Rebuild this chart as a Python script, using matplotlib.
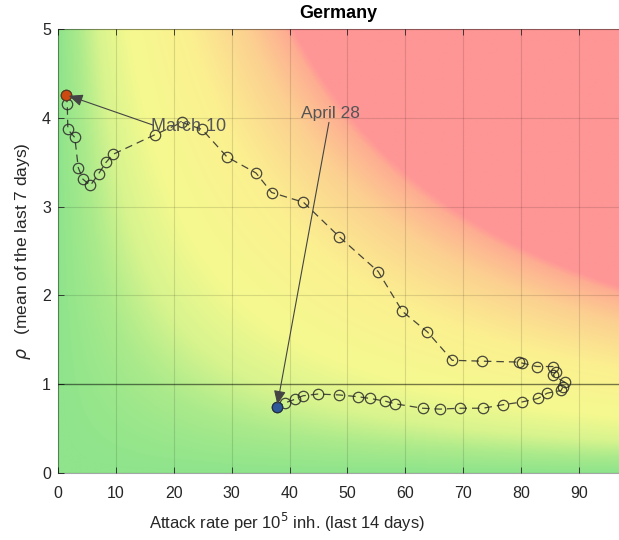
import numpy as np
import matplotlib
matplotlib.use("Agg")
import matplotlib.pyplot as plt
from matplotlib.colors import LinearSegmentedColormap

plt.rcParams['font.family'] = ['Liberation Sans', 'DejaVu Sans']

# attack rate per 1e5 inhabitants (14 days) and rho (7-day mean), daily from March 10 to April 28
attack_rate = [1.4, 1.6, 1.7, 2.9, 3.5, 4.3, 5.6, 7.0, 8.3, 9.5,
               16.7, 21.4, 24.9, 29.2, 34.2, 36.9, 42.4, 48.6, 55.3, 59.5,
               63.8, 68.1, 73.3, 79.6, 80.1, 82.7, 85.5, 86.0, 85.5, 87.6,
               87.2, 86.9, 84.5, 82.9, 80.1, 76.9, 73.4, 69.4, 66.0, 63.0,
               58.2, 56.5, 53.9, 51.8, 48.5, 44.9, 42.3, 40.9, 39.2, 37.8]
rho = [4.26, 4.16, 3.87, 3.78, 3.44, 3.31, 3.24, 3.37, 3.50, 3.59,
       3.81, 3.95, 3.87, 3.56, 3.38, 3.16, 3.05, 2.66, 2.27, 1.82,
       1.59, 1.27, 1.26, 1.25, 1.24, 1.20, 1.20, 1.14, 1.10, 1.02,
       0.97, 0.93, 0.90, 0.84, 0.80, 0.77, 0.73, 0.73, 0.72, 0.73,
       0.78, 0.81, 0.84, 0.86, 0.88, 0.89, 0.87, 0.83, 0.79, 0.74]
first_label = 'March 10'
last_label = 'April 28'

# risk background: colour by attack rate * rho, saturating in red
epg_max = 204.0
risk_cmap = LinearSegmentedColormap.from_list('risk', [
    (0.00, '#8fe48c'),
    (0.08, '#aaea8b'),
    (0.17, '#d8f48e'),
    (0.30, '#f5f98f'),
    (0.55, '#fbf090'),
    (0.80, '#fcd090'),
    (0.96, '#feae92'),
    (1.00, '#fe9696'),
])

fig = plt.figure(figsize=(6.19, 5.40), dpi=100)
ax = fig.add_axes([0.0937, 0.124, 0.9063, 0.822])

xmax = 96.9
gx = np.linspace(0, xmax, 500)
gy = np.linspace(0, 5, 400)
X, Y = np.meshgrid(gx, gy)
epg = np.clip(X * Y / epg_max, 0, 1)
ax.imshow(epg, extent=(0, xmax, 0, 5), origin='lower', aspect='auto',
          cmap=risk_cmap, vmin=0, vmax=1, interpolation='bilinear', zorder=0)

ax.set_xlim(0, xmax)
ax.set_ylim(0, 5)
ax.set_xticks(range(0, 91, 10))
ax.set_yticks(range(0, 6))
ax.grid(True, color='black', alpha=0.12, linewidth=0.8)
ax.axhline(1, color='black', alpha=0.45, linewidth=1.0, zorder=2)

ax.tick_params(direction='in', length=4, width=0.6, top=True, labelsize=11.5,
               colors='#262626')
ax.tick_params(axis='x', pad=9)
ax.tick_params(axis='y', pad=5)
for side in ['left', 'bottom', 'top']:
    ax.spines[side].set_color((0, 0, 0, 0.35))
ax.spines['right'].set_visible(False)

ax.plot(attack_rate, rho, linestyle='--', dashes=(6, 4), color='#2a2a2a', linewidth=0.9,
        marker='o', markersize=7.5, markerfacecolor='none', markeredgecolor='#2a2a2a',
        markeredgewidth=0.9, alpha=0.85, zorder=3)
ax.plot(attack_rate[0], rho[0], 'o', markersize=7.5, markerfacecolor='#cc4a12',
        markeredgecolor='#5a3a20', markeredgewidth=0.8, zorder=4)
ax.plot(attack_rate[-1], rho[-1], 'o', markersize=7.5, markerfacecolor='#2e5a9a',
        markeredgecolor='#203040', markeredgewidth=0.8, zorder=4)

arrow_kw = dict(arrowstyle='-|>,head_length=0.7,head_width=0.3', color='#444444',
                linewidth=0.8, shrinkA=0, shrinkB=2, mutation_scale=12)
ax.text(16.0, 3.90, first_label, ha='left', va='center', fontsize=13, color='#555555', zorder=5)
ax.annotate('', xy=(attack_rate[0], rho[0]), xytext=(16.4, 3.92), arrowprops=arrow_kw, zorder=5)
ax.text(47.0, 3.97, last_label, ha='center', va='bottom', fontsize=12.5, color='#555555', zorder=5)
ax.annotate('', xy=(attack_rate[-1], rho[-1]), xytext=(46.8, 3.95), arrowprops=arrow_kw, zorder=5)

ax.set_title('Germany', fontsize=13, fontweight='bold', pad=8)
ax.set_xlabel('Attack rate per 10$^5$ inh. (last 14 days)', fontsize=12, color='#262626')
ax.xaxis.set_label_coords(0.408, -0.085)
ax.set_ylabel(r'$\rho$   (mean of the last 7 days)', fontsize=12.5, color='#262626')
ax.yaxis.set_label_coords(-0.045, 0.5)

fig.savefig('out.png', dpi=100)
